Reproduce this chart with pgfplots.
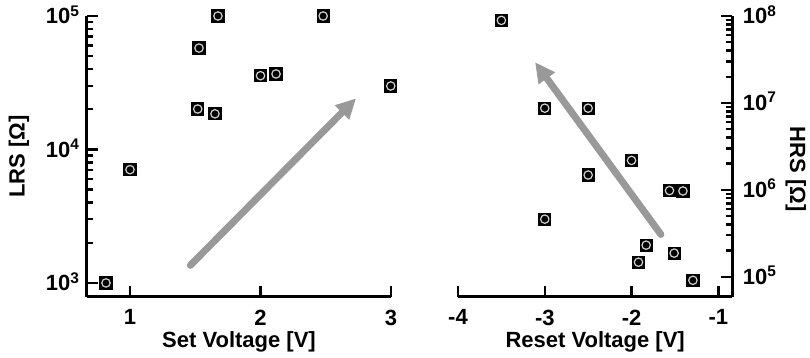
\documentclass[border=0pt]{standalone}
\usepackage{fontspec}
\setmainfont{Liberation Sans}
\usepackage{pgfplots}
\pgfplotsset{compat=1.18}
\usetikzlibrary{arrows.meta}
\definecolor{arrowgray}{RGB}{153,153,153}
\definecolor{ringgray}{RGB}{210,210,210}
\pgfdeclareplotmark{sqc}{%
  \pgfpathrectangle{\pgfqpoint{-3.3pt}{-3.3pt}}{\pgfqpoint{6.6pt}{6.6pt}}%
  \pgfsetfillcolor{black}\pgfusepath{fill}%
  \pgfpathcircle{\pgfpointorigin}{2.1pt}%
  \pgfsetstrokecolor{ringgray}\pgfsetlinewidth{0.6pt}\pgfusepath{stroke}%
}
\newcommand{\tf}{\fontsize{11}{13}\selectfont\bfseries}
\pgfplotsset{
  myaxstyle/.style={
    scale only axis, clip=false,
    width=152pt, height=140.5pt,
    axis line style={line width=1.5pt},
    tick align=inside,
    tick style={line width=1.2pt, black},
    major tick length=5.5pt, minor tick length=3.2pt,
    every tick label/.append style={font=\tf},
    xticklabel style={anchor=north, yshift=-2.8pt},
    every axis x label/.style={at={(rel axis cs:0.5,0)}, yshift=-25.5pt, anchor=base, font=\tf},
  },
}
\begin{document}
\begin{tikzpicture}
\useasboundingbox (0,0) rectangle (405pt,179pt);
\begin{axis}[myaxstyle, ymode=log,
  at={(43.5pt,30.5pt)}, anchor=south west,
  axis x line*=bottom, axis y line*=left,
  xmin=0.6705, xmax=3, ymin=785, ymax=100000,
  xtick={1,2,3}, xticklabels={1,2,3},
  ytick={1000,10000,100000},
  yticklabels={10\textsuperscript{3},10\textsuperscript{4},10\textsuperscript{5}},
  minor ytick={2000,3000,4000,5000,6000,7000,8000,9000,20000,30000,40000,50000,60000,70000,80000,90000},
  yticklabel style={anchor=base east, yshift=-4pt},
  xlabel={Set Voltage [V]},
  ylabel={LRS [Ω]},
  every axis y label/.style={at={(rel axis cs:0,0.5)}, xshift=-34pt, rotate=90, anchor=center, font=\tf},
]
\pgfplotsinvokeforeach{1,2,3}{\draw[line width=1.2pt] (axis cs:#1,785) -- ([yshift=5.5pt]axis cs:#1,785);}
\pgfplotsinvokeforeach{1000,10000,100000}{\draw[line width=1.2pt] (axis cs:0.6705,#1) -- ([xshift=5.5pt]axis cs:0.6705,#1);}
\pgfplotsinvokeforeach{2000,3000,4000,5000,6000,7000,8000,9000,20000,30000,40000,50000,60000,70000,80000,90000}{\draw[line width=1.1pt] (axis cs:0.6705,#1) -- ([xshift=3.2pt]axis cs:0.6705,#1);}
\addplot[color=arrowgray, line width=3.5pt, line cap=round, -{Triangle[length=10pt,width=9.5pt]}] coordinates {(1.462,1355) (2.732,24150)};
\addplot[only marks, mark=sqc] coordinates {
(0.816,1000) (1.0,7060) (1.529,57500) (1.519,20100) (1.674,100000)
(1.651,18500) (2.0,35700) (2.119,36800) (2.48,100000) (2.998,29900)
};
\end{axis}
\begin{axis}[myaxstyle, ymode=log,
  at={(229pt,30.5pt)}, anchor=south west, width=137.15pt,
  axis x line*=bottom, axis y line*=right,
  xmin=-4, xmax=-0.839, ymin=58500, ymax=1e8,
  xtick={-4,-3,-2,-1}, xticklabels={-4,-3,-2,-1},
  ytick={1e5,1e6,1e7,1e8},
  yticklabels={10\textsuperscript{5},10\textsuperscript{6},10\textsuperscript{7},10\textsuperscript{8}},
  minor ytick={2e5,3e5,4e5,5e5,6e5,7e5,8e5,9e5,2e6,3e6,4e6,5e6,6e6,7e6,8e6,9e6,2e7,3e7,4e7,5e7,6e7,7e7,8e7,9e7},
  yticklabel style={anchor=base west, yshift=-4pt, xshift=1.8pt},
  xlabel={Reset Voltage [V]},
  ylabel={HRS [Ω]},
  every axis y label/.style={at={(rel axis cs:1,0.455)}, xshift=31.7pt, rotate=-90, anchor=center, font=\tf},
]
\pgfplotsinvokeforeach{-4,-3,-2,-1}{\draw[line width=1.2pt] (axis cs:#1,58500) -- ([yshift=5.5pt]axis cs:#1,58500);}
\pgfplotsinvokeforeach{1e5,1e6,1e7,1e8}{\draw[line width=1.2pt] (axis cs:-0.839,#1) -- ([xshift=-5.5pt]axis cs:-0.839,#1);}
\pgfplotsinvokeforeach{2e5,3e5,4e5,5e5,6e5,7e5,8e5,9e5,2e6,3e6,4e6,5e6,6e6,7e6,8e6,9e6,2e7,3e7,4e7,5e7,6e7,7e7,8e7,9e7}{\draw[line width=1.1pt] (axis cs:-0.839,#1) -- ([xshift=-3.2pt]axis cs:-0.839,#1);}
\addplot[color=arrowgray, line width=3.5pt, line cap=round, -{Triangle[length=10pt,width=9.5pt]}] coordinates {(-1.662,307000) (-3.112,29400000)};
\addplot[only marks, mark=sqc] coordinates {
(-3.5,89000000) (-3.0,8700000) (-2.5,8700000) (-2.0,2180000) (-2.5,1480000)
(-1.563,980000) (-1.408,970000) (-3.0,460000) (-1.832,231000) (-1.509,187000)
(-1.92,147000) (-1.293,91000)
};
\end{axis}
\end{tikzpicture}
\end{document}
